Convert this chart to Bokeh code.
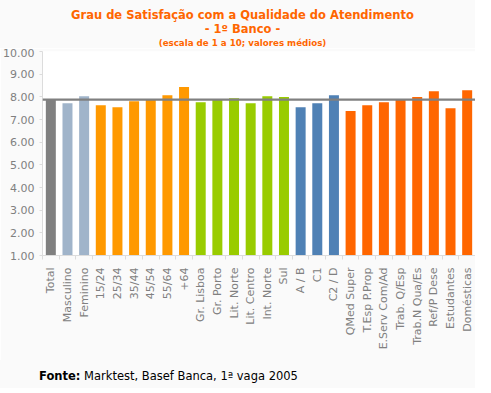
from bokeh.plotting import figure
from bokeh.models import FixedTicker, Span, Div
from bokeh.layouts import column
from bokeh.embed import file_html
from bokeh.resources import INLINE
from math import pi

categories = ["Total", "Masculino", "Feminino", "15/24", "25/34", "35/44", "45/54", "55/64", "+64",
              "Gr. Lisboa", "Gr. Porto", "Lit. Norte", "Lit. Centro", "Int. Norte", "Sul",
              "A / B", "C1", "C2 / D", "QMed Super", "T.Esp P.Prop", "E.Serv Com/Ad",
              "Trab. Q/Esp", "Trab.N Qua/Es", "Ref/P Dese", "Estudantes", "Domésticas"]
values = [7.88, 7.72, 8.03, 7.63, 7.54, 7.81, 7.88, 8.07, 8.43,
          7.76, 7.88, 7.94, 7.72, 8.03, 7.99,
          7.54, 7.72, 8.07, 7.37, 7.63, 7.76,
          7.88, 7.99, 8.25, 7.50, 8.29]
groups = ["total", "sexo", "sexo", "idade", "idade", "idade", "idade", "idade", "idade",
          "regiao", "regiao", "regiao", "regiao", "regiao", "regiao",
          "classe", "classe", "classe", "ocup", "ocup", "ocup",
          "ocup", "ocup", "ocup", "ocup", "ocup"]
group_colors = {"total": "#808080", "sexo": "#a0b4ca", "idade": "#ff9900",
                "regiao": "#99cc00", "classe": "#4f81b5", "ocup": "#ff6600"}
average = 7.88
y_ticks = [1, 2, 3, 4, 5, 6, 7, 8, 9, 10]
title_lines = ["Grau de Satisfação com a Qualidade do Atendimento",
               "- 1º Banco -",
               "(escala de 1 a 10; valores médios)"]
source_bold = "Fonte:"
source_text = "Marktest, Basef Banca, 1ª vaga 2005"

positions = list(range(len(categories)))
colors = [group_colors[g] for g in groups]

W = 475
H = 312
p = figure(width=W, height=H, output_backend="svg", toolbar_location=None, title=None,
           x_range=(-0.5, len(categories) - 0.5), y_range=(1, 10),
           min_border_left=36, min_border_right=0, min_border_top=3, min_border_bottom=105)
p.background_fill_color = "#ffffff"
p.border_fill_color = "#fafafa"
p.outline_line_color = None
p.xgrid.visible = False
p.ygrid.visible = False

p.vbar(x=positions, top=values, bottom=1, width=0.6, color=colors, line_color=None)

p.add_layout(Span(location=average, dimension="width", line_color="#808080", line_width=2.2))

# y axis
p.yaxis.ticker = FixedTicker(ticks=y_ticks)
p.yaxis.major_label_overrides = {t: f"{t:.2f}" for t in y_ticks}
p.yaxis.axis_line_color = "#dcdcdc"
p.yaxis.major_tick_line_color = "#dcdcdc"
p.yaxis.major_tick_out = 3
p.yaxis.major_tick_in = 0
p.yaxis.minor_tick_line_color = None
p.yaxis.major_label_text_font = "DejaVu Sans"
p.yaxis.major_label_text_font_size = "11px"
p.yaxis.major_label_text_color = "#808080"
p.yaxis.major_label_standoff = 5

# x axis
p.xaxis.ticker = FixedTicker(ticks=positions, minor_ticks=[i - 0.5 for i in range(len(categories) + 1)])
p.xaxis.major_label_overrides = {i: c for i, c in zip(positions, categories)}
p.xaxis.major_label_orientation = pi / 2
p.xaxis.axis_line_color = "#dcdcdc"
p.xaxis.major_tick_line_color = None
p.xaxis.minor_tick_line_color = "#dcdcdc"
p.xaxis.minor_tick_out = 4
p.xaxis.minor_tick_in = 0
p.xaxis.major_label_text_font = "DejaVu Sans"
p.xaxis.major_label_text_font_size = "11px"
p.xaxis.major_label_text_color = "#808080"
p.xaxis.major_label_standoff = 6

header_html = (
    f'<div style="font-size:11.5px;line-height:14px;">{title_lines[0]}</div>'
    f'<div style="font-size:11.5px;line-height:14.7px;">{title_lines[1]}</div>'
    f'<div style="font-size:8.7px;line-height:12px;">{title_lines[2]}</div>'
)
header = Div(text=header_html, width=W, height=48, margin=(0, 0, 0, 0),
             styles={"font-family": "DejaVu Sans", "font-weight": "bold", "color": "#ff6600",
                     "text-align": "center", "background-color": "#fafafa",
                     "padding-top": "8px", "padding-left": "10px", "box-sizing": "border-box",
                     "width": f"{W}px"})

footer = Div(text=f"<b>{source_bold}</b> {source_text}", width=W, height=28, margin=(0, 0, 0, 0),
             styles={"font-family": "DejaVu Sans", "font-size": "11.5px", "line-height": "14px",
                     "color": "#000000", "background-color": "#fafafa", "padding-left": "39px",
                     "padding-top": "9px", "box-sizing": "border-box"})

layout = column(header, p, footer, spacing=0)
html = file_html(layout, INLINE)
html = html.replace("<body>", '<body style="background-color:#fafafa;">', 1)
open("out.html", "w").write(html)
